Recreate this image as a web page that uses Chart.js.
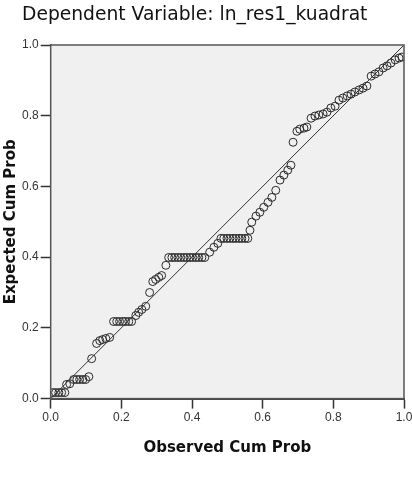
<!DOCTYPE html>
<html>
<head>
<meta charset="utf-8">
<script src="https://cdn.jsdelivr.net/npm/chart.js@4/dist/chart.umd.min.js"></script>
<style>
    body { margin: 0; background: #fff; }
    #wrap { width: 412px; height: 480px; position: relative; }
</style>
</head>
<body>
<div id="wrap"><canvas id="ppPlot"></canvas></div>
<script>
const titulo = 'Dependent Variable: ln_res1_kuadrat'
const tituloX = 'Observed Cum Prob'
const tituloY = 'Expected Cum Prob'
const ticks = [0, 0.2, 0.4, 0.6, 0.8, 1.0]

// observed cum prob (x) e expected cum prob (y)
const observado = [
    0.006, 0.014, 0.023, 0.031, 0.040, 0.045, 0.054,
    0.065, 0.074, 0.082, 0.091, 0.099, 0.108, 0.116,
    0.130, 0.139, 0.147, 0.156, 0.167,
    0.178, 0.187, 0.195, 0.204, 0.212, 0.221, 0.229,
    0.241, 0.249, 0.258, 0.269, 0.280,
    0.289, 0.297, 0.306, 0.314, 0.326,
    0.334, 0.343, 0.351, 0.360, 0.368, 0.377, 0.385, 0.394, 0.402, 0.411, 0.419, 0.428, 0.436,
    0.450, 0.462, 0.473,
    0.482, 0.490, 0.499, 0.507, 0.516, 0.524, 0.533, 0.541, 0.550, 0.558,
    0.564, 0.569, 0.581, 0.592, 0.603, 0.615, 0.626, 0.637, 0.649, 0.660, 0.671, 0.680,
    0.686, 0.697, 0.705, 0.717, 0.725,
    0.737, 0.748, 0.759, 0.771, 0.782, 0.793, 0.805,
    0.816, 0.827, 0.839, 0.850, 0.861, 0.873, 0.884, 0.895,
    0.907, 0.918, 0.929, 0.941, 0.952, 0.963, 0.975, 0.986, 0.994
]
const esperado = [
    0.017, 0.017, 0.017, 0.017, 0.017, 0.040, 0.042,
    0.054, 0.054, 0.054, 0.054, 0.054, 0.062, 0.113,
    0.156, 0.164, 0.167, 0.170, 0.173,
    0.218, 0.218, 0.218, 0.218, 0.218, 0.218, 0.218,
    0.235, 0.244, 0.252, 0.261, 0.300,
    0.331, 0.337, 0.343, 0.348, 0.377,
    0.399, 0.399, 0.399, 0.399, 0.399, 0.399, 0.399, 0.399, 0.399, 0.399, 0.399, 0.399, 0.399,
    0.414, 0.428, 0.439,
    0.453, 0.453, 0.453, 0.453, 0.453, 0.453, 0.453, 0.453, 0.453, 0.453,
    0.476, 0.499, 0.516, 0.527, 0.541, 0.555, 0.569, 0.589, 0.618, 0.632, 0.646, 0.660,
    0.725, 0.756, 0.762, 0.765, 0.768,
    0.793, 0.799, 0.802, 0.805, 0.810, 0.822, 0.827,
    0.844, 0.850, 0.856, 0.861, 0.867, 0.873, 0.878, 0.884,
    0.912, 0.918, 0.924, 0.935, 0.941, 0.949, 0.958, 0.963, 0.966
]

const pontos = observado.map((x, i) => ({ x: x, y: esperado[i] }))

const fundoPlot = {
    id: 'fundoPlot',
    beforeDatasetsDraw(chart) {
        const { ctx, chartArea: a } = chart
        ctx.save()
        ctx.fillStyle = '#f0f0f0'
        ctx.fillRect(a.left, a.top, a.right - a.left, a.bottom - a.top)
        ctx.restore()
    },
    afterDraw(chart) {
        const { ctx, chartArea: a } = chart
        ctx.save()
        ctx.strokeStyle = '#555'
        ctx.lineWidth = 1.5
        ctx.strokeRect(a.left, a.top, a.right - a.left, a.bottom - a.top)
        // titulo no canto superior esquerdo
        ctx.fillStyle = '#111'
        ctx.font = '18.7px "DejaVu Sans"'
        ctx.textBaseline = 'middle'
        ctx.textAlign = 'left'
        ctx.fillText(titulo, 22, 15)
        ctx.restore()
    }
}

const eixo = (texto, pad) => ({
    type: 'linear',
    min: 0,
    max: 1,
    afterBuildTicks: (s) => { s.ticks = ticks.map(v => ({ value: v })) },
    ticks: {
        color: '#333',
        font: { family: 'Liberation Sans', size: 12 },
        padding: 2,
        callback: (v) => Number(v).toFixed(1)
    },
    grid: { drawOnChartArea: false, tickLength: 10, tickColor: '#333', tickWidth: 1.5 },
    border: { color: '#444', width: 2 },
    title: {
        display: true,
        text: texto,
        color: '#111',
        padding: pad,
        font: { family: 'DejaVu Sans', size: 15, weight: 'bold' }
    }
})

const eixoX = eixo(tituloX, { top: 12, bottom: 4 })
eixoX.afterFit = (s) => { s.paddingRight = 8 }

new Chart(document.getElementById('ppPlot'), {
    type: 'scatter',
    data: {
        datasets: [
            {
                data: [{ x: 0, y: 0 }, { x: 1, y: 1 }],
                showLine: true,
                borderColor: '#333',
                borderWidth: 1,
                pointRadius: 0
            },
            {
                data: pontos,
                pointRadius: 4,
                pointBackgroundColor: 'rgba(0,0,0,0)',
                pointBorderColor: '#2a2a2a',
                pointBorderWidth: 1
            }
        ]
    },
    options: {
        responsive: true,
        maintainAspectRatio: false,
        animation: false,
        layout: { padding: { left: 0, right: 0, top: 45, bottom: 19 } },
        plugins: {
            legend: { display: false },
            tooltip: { enabled: false },
            title: { display: false }
        },
        scales: {
            x: eixoX,
            y: eixo(tituloY, { top: 2, bottom: 0 })
        }
    },
    plugins: [fundoPlot]
})
</script>
</body>
</html>
